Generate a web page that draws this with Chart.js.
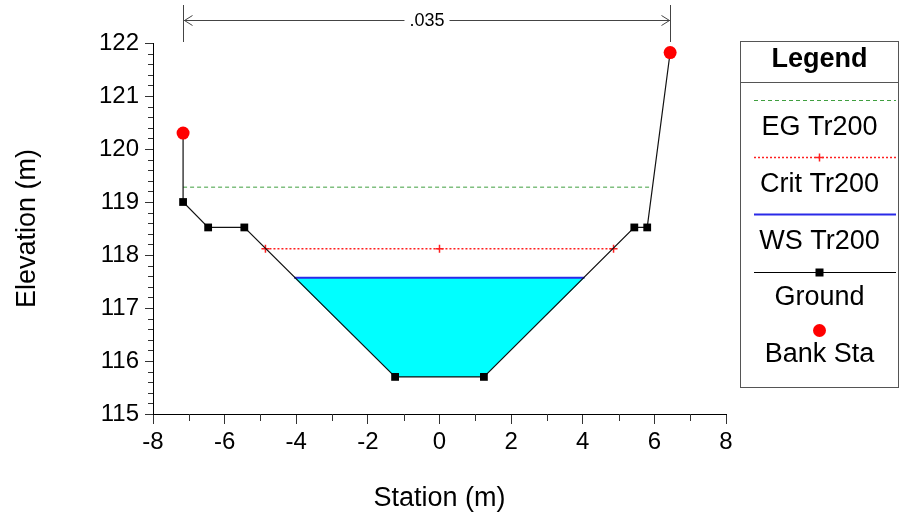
<!DOCTYPE html>
<html lang="en">
<head>
<meta charset="UTF-8">
<title>Cross Section</title>
<style>
  body { margin: 0; background: #fff; }
  canvas { display: block; }
</style>
</head>
<body>
<canvas id="xs" width="903" height="523"></canvas>
<script src="https://cdn.jsdelivr.net/npm/chart.js@4.4.0/dist/chart.umd.min.js"></script>
<script>
// ground survey points (station, elevation)
const groundStation = [-7.16, -7.16, -6.46, -5.45, -1.24, 1.24, 5.44, 5.80, 6.44]
const groundElev = [120.30, 119.00, 118.52, 118.52, 115.70, 115.70, 118.52, 118.52, 121.82]

// bank stations
const bankStation = [-7.16, 6.44]
const bankElev = [120.30, 121.82]

// water levels for profile Tr200
const wsStation = [-4.06, 4.05]
const wsElev = 117.57
const critStation = [-4.86, 0, 4.86]
const critElev = 118.12
const egStation = [-7.16, 5.95]
const egElev = 119.28

const manningN = '.035'

const xTicks = [-8, -6, -4, -2, 0, 2, 4, 6, 8]
const yTicks = [115, 116, 117, 118, 119, 120, 121, 122]

const FONT = "'Liberation Sans', Arial, sans-serif"

const pts = (xs, ys) => xs.map((x, i) => ({ x: x, y: Array.isArray(ys) ? ys[i] : ys }))

// wetted part of the section, closed by the water surface
const waterPts = [{ x: wsStation[0], y: wsElev }]
groundStation.forEach((x, i) => {
    if (x > wsStation[0] && x < wsStation[1]) waterPts.push({ x: x, y: groundElev[i] })
})
waterPts.push({ x: wsStation[1], y: wsElev })

const series = {
    eg: { label: 'EG Tr200', color: '#3f9f3f', dash: [4, 3] },
    crit: { label: 'Crit Tr200', color: '#ff2020', dash: [2, 2] },
    ws: { label: 'WS Tr200', color: '#2a2ae8', dash: [] },
    ground: { label: 'Ground', color: '#000000', dash: [] },
    bank: { label: 'Bank Sta', color: '#ff0000', dash: [] }
}

const minorTicks = {
    id: 'minorTicks',
    afterDraw(chart) {
        const { ctx, chartArea, scales } = chart
        ctx.save()
        ctx.strokeStyle = '#333'
        ctx.lineWidth = 1
        ctx.beginPath()
        for (let v = 115; v < 122; v += 0.2) {
            if (Math.abs(v - Math.round(v)) < 0.01) continue
            const y = Math.round(scales.y.getPixelForValue(v)) + 0.5
            ctx.moveTo(chartArea.left - 5, y)
            ctx.lineTo(chartArea.left, y)
        }
        for (let v = -7; v < 8; v += 2) {
            const x = Math.round(scales.x.getPixelForValue(v)) + 0.5
            ctx.moveTo(x, chartArea.bottom)
            ctx.lineTo(x, chartArea.bottom + 7)
        }
        ctx.stroke()
        ctx.restore()
    }
}

// n value dimension line between the bank stations
const nValueLine = {
    id: 'nValueLine',
    afterDraw(chart) {
        const { ctx, scales } = chart
        const x1 = Math.round(scales.x.getPixelForValue(bankStation[0])) + 0.5
        const x2 = Math.round(scales.x.getPixelForValue(bankStation[1])) + 0.5
        const y = 20.5
        ctx.save()
        ctx.strokeStyle = '#444'
        ctx.lineWidth = 1
        ctx.font = '18px ' + FONT
        const tw = ctx.measureText(manningN).width
        const mid = (x1 + x2) / 2
        ctx.beginPath()
        ctx.moveTo(x1, 5); ctx.lineTo(x1, 42)
        ctx.moveTo(x2, 5); ctx.lineTo(x2, 42)
        ctx.moveTo(x1, y); ctx.lineTo(mid - tw / 2 - 5, y)
        ctx.moveTo(mid + tw / 2 + 5, y); ctx.lineTo(x2, y)
        ctx.moveTo(x1 + 9, y - 5); ctx.lineTo(x1 + 1, y); ctx.lineTo(x1 + 9, y + 5)
        ctx.moveTo(x2 - 9, y - 5); ctx.lineTo(x2 - 1, y); ctx.lineTo(x2 - 9, y + 5)
        ctx.stroke()
        ctx.fillStyle = '#000'
        ctx.textAlign = 'center'
        ctx.textBaseline = 'middle'
        ctx.fillText(manningN, mid, y + 1)
        ctx.restore()
    }
}

const legendBox = {
    id: 'legendBox',
    afterDraw(chart) {
        const { ctx } = chart
        const left = 740.5, right = 898.5, top = 41.5, bottom = 387.5
        const cx = (left + right) / 2
        ctx.save()
        ctx.strokeStyle = '#555'
        ctx.lineWidth = 1
        ctx.strokeRect(left, top, right - left, bottom - top)
        ctx.beginPath()
        ctx.moveTo(left, 82.5); ctx.lineTo(right, 82.5)
        ctx.stroke()
        ctx.fillStyle = '#000'
        ctx.textAlign = 'center'
        ctx.textBaseline = 'middle'
        ctx.font = 'bold 27px ' + FONT
        ctx.fillText('Legend', cx, 60)
        ctx.font = '27px ' + FONT
        const rows = [
            { s: series.eg, y: 100, ty: 128 },
            { s: series.crit, y: 157, ty: 185, mark: 'cross', width: 1.5 },
            { s: series.ws, y: 214, ty: 242, width: 2 },
            { s: series.ground, y: 272, ty: 298, mark: 'rect' },
            { s: series.bank, y: 330, ty: 355, mark: 'circle', noLine: true }
        ]
        rows.forEach(r => {
            const y = r.y + 0.5
            if (!r.noLine) {
                ctx.strokeStyle = r.s.color
                ctx.lineWidth = r.width || 1
                ctx.setLineDash(r.s.dash)
                ctx.beginPath()
                ctx.moveTo(754, y); ctx.lineTo(896, y)
                ctx.stroke()
                ctx.setLineDash([])
            }
            ctx.fillStyle = r.s.color
            ctx.strokeStyle = r.s.color
            ctx.lineWidth = 1.5
            if (r.mark === 'cross') {
                ctx.beginPath()
                ctx.moveTo(cx - 4, y); ctx.lineTo(cx + 4, y)
                ctx.moveTo(cx, y - 4); ctx.lineTo(cx, y + 4)
                ctx.stroke()
            } else if (r.mark === 'rect') {
                ctx.fillRect(cx - 4, y - 4, 8, 8)
            } else if (r.mark === 'circle') {
                ctx.beginPath()
                ctx.arc(cx, y, 6.5, 0, Math.PI * 2)
                ctx.fill()
            }
            ctx.fillStyle = '#000'
            ctx.fillText(r.s.label, cx, r.ty)
        })
        ctx.restore()
    }
}

const chart = new Chart(document.getElementById('xs'), {
    type: 'scatter',
    data: {
        datasets: [
            {
                label: 'water',
                data: waterPts,
                showLine: true,
                borderWidth: 0,
                pointRadius: 0,
                backgroundColor: '#00ffff',
                fill: { value: wsElev },
                order: 6
            },
            {
                label: series.ws.label,
                data: pts(wsStation, wsElev),
                showLine: true,
                borderColor: series.ws.color,
                borderWidth: 2,
                pointRadius: 0,
                order: 5
            },
            {
                label: series.eg.label,
                data: pts(egStation, egElev),
                showLine: true,
                borderColor: series.eg.color,
                borderDash: series.eg.dash,
                borderWidth: 1,
                pointRadius: 0,
                order: 4
            },
            {
                label: series.crit.label,
                data: pts(critStation, critElev),
                showLine: true,
                borderColor: series.crit.color,
                borderDash: series.crit.dash,
                borderWidth: 1.5,
                pointStyle: 'cross',
                pointRadius: 4,
                pointBorderWidth: 1.5,
                pointBorderColor: series.crit.color,
                order: 3
            },
            {
                label: series.ground.label,
                data: pts(groundStation, groundElev),
                showLine: true,
                borderColor: '#111',
                borderWidth: 1.2,
                pointStyle: 'rect',
                pointRadius: 5.5,
                pointBackgroundColor: '#000',
                pointBorderColor: '#000',
                pointBorderWidth: 0,
                order: 2
            },
            {
                label: series.bank.label,
                data: pts(bankStation, bankElev),
                showLine: false,
                pointStyle: 'circle',
                pointRadius: 6.5,
                pointBackgroundColor: series.bank.color,
                pointBorderColor: series.bank.color,
                pointBorderWidth: 0,
                order: 1
            }
        ]
    },
    options: {
        responsive: false,
        animation: false,
        layout: { padding: { left: 0, top: 43, right: 177, bottom: 0 } },
        plugins: {
            legend: { display: false },
            tooltip: { enabled: false }
        },
        scales: {
            x: {
                type: 'linear',
                min: -8,
                max: 8,
                afterBuildTicks: s => { s.ticks = xTicks.map(v => ({ value: v })) },
                afterFit: s => { s.height = 109 },
                border: { color: '#000', width: 1 },
                grid: { drawOnChartArea: false, tickLength: 10, tickColor: '#333' },
                ticks: { color: '#000', padding: 4, font: { family: FONT, size: 24 }, maxRotation: 0, autoSkip: false },
                title: { display: true, text: 'Station (m)', color: '#000', font: { family: FONT, size: 27 }, padding: { top: 0, bottom: 8 } }
            },
            y: {
                type: 'linear',
                min: 115,
                max: 122,
                afterBuildTicks: s => { s.ticks = yTicks.map(v => ({ value: v })) },
                afterFit: s => { s.width = 153 },
                border: { color: '#000', width: 1 },
                grid: { drawOnChartArea: false, tickLength: 8, tickColor: '#333' },
                ticks: { color: '#000', padding: 6, font: { family: FONT, size: 24 }, autoSkip: false },
                title: { display: true, text: 'Elevation (m)', color: '#000', font: { family: FONT, size: 27 }, padding: { top: 11, bottom: 0 } }
            }
        }
    },
    plugins: [minorTicks, nValueLine, legendBox]
})
</script>
</body>
</html>
